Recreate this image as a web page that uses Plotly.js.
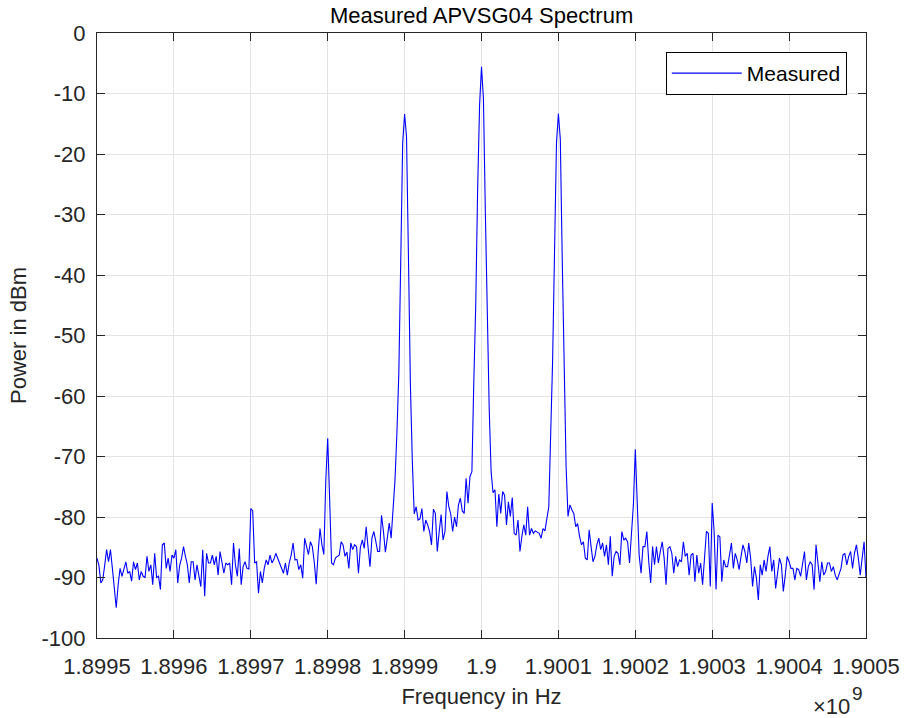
<!DOCTYPE html>
<html>
<head>
<meta charset="utf-8">
<script src="https://cdn.plot.ly/plotly-3.0.1.min.js"></script>
<style>
html,body{margin:0;padding:0;background:#fff;}
#chart{width:906px;height:718px;}
</style>
</head>
<body>
<div id="chart"></div>
<script>
// Frequency grid: start and step (Hz)
const freqStart = 1.8995e9;
const freqStep = 2500;

// Measured power (dBm), 401 samples from 1.8995e9 to 1.9005e9 Hz
const powerDbm = [
-86.8,-88.0,-90.9,-90.4,-88.0,-85.4,-87.4,-85.4,-88.5,-92.0,
-95.0,-91.2,-88.5,-89.8,-88.8,-87.4,-89.3,-89.0,-90.6,-87.4,
-88.7,-87.6,-90.4,-89.0,-89.8,-90.0,-86.5,-89.0,-87.9,-91.2,
-86.0,-90.0,-89.8,-92.0,-84.6,-84.3,-88.5,-86.8,-89.0,-86.3,
-86.8,-85.4,-90.9,-88.0,-86.8,-84.9,-86.5,-87.9,-90.9,-87.4,
-87.4,-90.4,-87.9,-89.5,-91.5,-85.4,-93.1,-86.0,-87.6,-87.6,
-86.3,-87.9,-86.5,-89.6,-85.7,-87.5,-89.3,-87.6,-87.9,-87.6,
-91.2,-84.3,-87.9,-89.8,-85.2,-91.2,-88.2,-87.4,-88.5,-88.6,
-78.6,-79.0,-87.6,-87.4,-92.6,-89.0,-90.9,-88.5,-87.1,-87.9,
-86.3,-87.6,-87.0,-86.0,-86.8,-87.6,-88.5,-89.3,-87.6,-89.6,
-87.6,-86.3,-84.3,-87.1,-87.0,-88.7,-87.9,-90.1,-83.5,-85.0,
-86.2,-84.1,-84.9,-87.4,-91.1,-86.0,-81.9,-84.6,-86.2,-74.0,
-67.0,-76.9,-87.6,-87.9,-86.8,-86.5,-86.3,-84.1,-84.6,-86.5,
-85.8,-88.5,-84.3,-85.4,-84.6,-84.9,-89.3,-85.0,-83.8,-85.2,
-81.6,-85.0,-88.2,-83.5,-82.4,-84.0,-85.7,-85.7,-79.7,-82.4,
-85.8,-83.5,-81.0,-83.5,-78.0,-73.9,-66.1,-56.2,-37.5,-18.2,
-13.4,-17.1,-37.0,-57.9,-70.6,-79.5,-78.3,-80.5,-80.3,-78.6,
-82.4,-80.5,-81.3,-82.4,-84.6,-78.7,-79.4,-85.7,-82.4,-79.6,
-83.8,-82.4,-75.8,-78.3,-79.5,-82.4,-80.0,-81.6,-78.0,-76.9,
-79.0,-79.4,-73.6,-77.7,-73.3,-72.5,-57.6,-45.0,-25.6,-11.9,
-5.6,-10.8,-29.5,-47.7,-62.0,-72.5,-76.0,-75.5,-81.6,-76.2,
-79.4,-75.8,-76.4,-81.3,-77.5,-79.9,-76.8,-82.7,-83.0,-80.5,
-85.7,-83.2,-81.3,-83.0,-78.3,-83.0,-81.9,-82.7,-82.3,-82.5,
-82.7,-83.5,-81.9,-82.3,-80.2,-78.3,-66.1,-54.0,-35.9,-18.2,
-13.3,-17.6,-37.5,-57.9,-71.6,-79.9,-78.0,-78.8,-79.4,-81.6,
-81.1,-83.2,-84.6,-84.1,-86.8,-87.1,-82.1,-84.9,-87.4,-86.5,
-84.6,-83.5,-85.4,-84.3,-86.5,-84.6,-87.9,-83.2,-89.8,-86.5,
-85.7,-86.0,-87.9,-82.4,-83.8,-83.5,-84.1,-87.6,-83.5,-78.0,
-68.8,-76.4,-86.3,-89.3,-84.9,-84.9,-82.4,-87.4,-90.9,-84.9,
-87.9,-84.9,-87.6,-85.7,-84.1,-86.8,-91.2,-85.2,-84.9,-86.0,
-89.3,-86.5,-88.2,-87.1,-87.4,-84.1,-86.5,-86.0,-89.6,-86.3,
-86.0,-90.7,-86.3,-89.3,-87.6,-91.2,-86.3,-82.4,-82.7,-91.5,
-77.7,-82.4,-92.0,-83.0,-83.3,-90.7,-87.1,-88.2,-88.2,-86.5,
-84.3,-88.5,-86.0,-87.1,-88.7,-86.5,-84.6,-85.7,-87.6,-84.3,
-86.8,-91.5,-88.2,-90.1,-93.7,-87.9,-89.6,-87.1,-89.0,-86.5,
-84.9,-89.0,-87.1,-91.8,-89.3,-86.8,-87.9,-92.3,-89.6,-86.5,
-87.4,-88.5,-88.5,-90.4,-88.5,-88.7,-89.8,-87.6,-85.7,-90.4,
-88.2,-87.4,-87.9,-92.0,-84.6,-87.6,-90.7,-87.4,-89.6,-89.0,
-87.6,-87.6,-89.0,-88.2,-89.6,-90.4,-89.6,-88.5,-86.3,-86.0,
-87.9,-86.5,-85.7,-88.5,-86.0,-84.6,-86.8,-89.6,-86.8,-84.1,
-90.1
];

// Axis ticks
const xTickVals = [1.8995e9,1.8996e9,1.8997e9,1.8998e9,1.8999e9,1.9e9,1.9001e9,1.9002e9,1.9003e9,1.9004e9,1.9005e9];
const xTickText = ["1.8995","1.8996","1.8997","1.8998","1.8999","1.9","1.9001","1.9002","1.9003","1.9004","1.9005"];
const yTickVals = [-100,-90,-80,-70,-60,-50,-40,-30,-20,-10,0];
const yTickText = ["-100","-90","-80","-70","-60","-50","-40","-30","-20","-10","0"];

const FONT = "Arial, 'Liberation Sans', Helvetica, sans-serif";
const AXC = "#262626";

const trace = {
  type: "scatter",
  mode: "lines",
  name: "Measured",
  x0: freqStart,
  dx: freqStep,
  y: powerDbm,
  line: {color: "#0000ff", width: 1.1}
};

const axisCommon = {
  showline: true, mirror: "ticks", linecolor: AXC, linewidth: 1,
  ticks: "inside", ticklen: 8, tickcolor: AXC, tickwidth: 1,
  showgrid: true, gridcolor: "#e3e3e3", gridwidth: 1,
  zeroline: false,
  tickfont: {family: FONT, size: 22, color: AXC},
  automargin: false
};

const layout = {
  width: 906, height: 718,
  paper_bgcolor: "#ffffff", plot_bgcolor: "#ffffff",
  margin: {l: 97, r: 40, t: 33, b: 80},
  font: {family: FONT, color: AXC},
  title: {text: "Measured APVSG04 Spectrum", font: {family: FONT, size: 22, color: "#000"},
          x: 0.5316, xanchor: "center", y: 0.979, yanchor: "middle"},
  xaxis: Object.assign({}, axisCommon, {
    range: [1.8995e9, 1.9005e9],
    tickmode: "array", tickvals: xTickVals, ticktext: xTickText,
    ticklabelstandoff: 9,
    title: {text: "Frequency in Hz", font: {family: FONT, size: 22, color: AXC}, standoff: 10}
  }),
  yaxis: Object.assign({}, axisCommon, {
    range: [-100, 0],
    tickmode: "array", tickvals: yTickVals, ticktext: yTickText,
    ticklabelstandoff: 6,
    title: {text: "Power in dBm", font: {family: FONT, size: 22, color: AXC}, standoff: 8}
  }),
  showlegend: true,
  legend: {
    x: 0.975, xanchor: "right", y: 0.9686, yanchor: "top",
    bgcolor: "#ffffff", bordercolor: "#000000", borderwidth: 1,
    font: {family: FONT, size: 21, color: "#000"},
    itemwidth: 70
  },
  annotations: [
    {xref: "paper", yref: "paper", x: 0.9818, y: -0.138, xanchor: "right", yanchor: "bottom",
     text: "×10", showarrow: false, font: {family: FONT, size: 22, color: AXC}},
    {xref: "paper", yref: "paper", x: 0.9798, y: -0.092, xanchor: "left", yanchor: "middle",
     text: "9", showarrow: false, font: {family: FONT, size: 19, color: AXC}}
  ]
};

Plotly.newPlot("chart", [trace], layout, {displayModeBar: false, staticPlot: true});
</script>
</body>
</html>
